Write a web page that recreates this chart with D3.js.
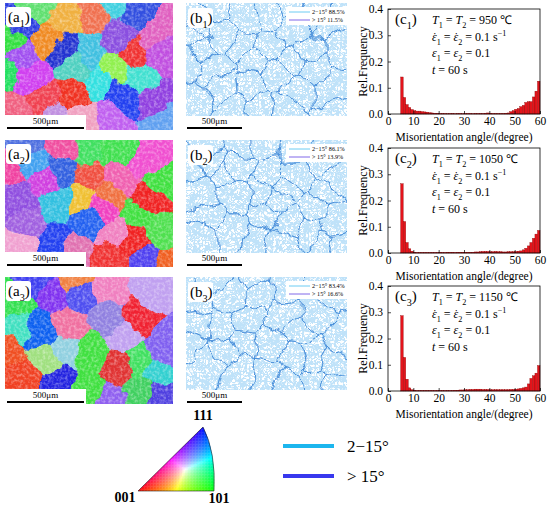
<!DOCTYPE html>
<html>
<head>
<meta charset="utf-8">
<script src="https://cdn.jsdelivr.net/npm/d3@7/dist/d3.min.js"></script>
<style>
  body { margin: 0; background: #fff; }
  svg text { font-family: "Liberation Serif", "Times New Roman", Times, serif; }
</style>
</head>
<body>
<svg id="fig" width="550" height="510"></svg>
<script>
// ---- data ----
const temps = [950, 1050, 1150];
const lowAngleShare = [88.5, 86.1, 83.4];
const highAngleShare = [11.5, 13.9, 16.6];
const angleTicks = [0, 10, 20, 30, 40, 50, 60];
const freqTicks = [0, 0.1, 0.2, 0.3, 0.4];
const binStarts = d3.range(5, 60); // 1 degree bins, 5..60

// relative frequency per bin (5-6, 6-7, ... 59-60)
const freq950 = [0.141, 0.063, 0.036, 0.025, 0.017, 0.013, 0.011, 0.011, 0.009, 0.008,
  0.007, 0.005, 0.004, 0.003, 0.003, 0.002, 0.002, 0.002, 0.001, 0.002,
  0.002, 0.001, 0.002, 0.002, 0.001, 0.002, 0.002, 0.002, 0.001, 0.002,
  0.002, 0.002, 0.002, 0.003, 0.004, 0.003, 0.002, 0.002, 0.002, 0.002,
  0.002, 0.003, 0.004, 0.009, 0.013, 0.018, 0.021, 0.028, 0.033, 0.044,
  0.047, 0.047, 0.065, 0.087, 0.125];
const freq1050 = [0.264, 0.120, 0.040, 0.016, 0.007, 0.003, 0.002, 0.002, 0.002, 0.002,
  0.002, 0.002, 0.002, 0.002, 0.002, 0.003, 0.002, 0.002, 0.003, 0.003,
  0.003, 0.002, 0.003, 0.003, 0.003, 0.003, 0.003, 0.003, 0.003, 0.004,
  0.004, 0.005, 0.006, 0.006, 0.006, 0.005, 0.005, 0.006, 0.005, 0.005,
  0.004, 0.004, 0.005, 0.005, 0.005, 0.006, 0.007, 0.008, 0.012, 0.018,
  0.027, 0.040, 0.056, 0.072, 0.086];
const freq1150 = [0.287, 0.128, 0.045, 0.012, 0.005, 0.003, 0.002, 0.002, 0.002, 0.002,
  0.002, 0.002, 0.002, 0.002, 0.002, 0.002, 0.002, 0.002, 0.002, 0.002,
  0.002, 0.003, 0.003, 0.004, 0.004, 0.005, 0.005, 0.006, 0.006, 0.007,
  0.007, 0.007, 0.006, 0.006, 0.006, 0.005, 0.005, 0.005, 0.005, 0.005,
  0.005, 0.005, 0.005, 0.006, 0.006, 0.007, 0.008, 0.010, 0.012, 0.015,
  0.027, 0.048, 0.058, 0.068, 0.097];
const freqSeries = [freq950, freq1050, freq1150];

// grain seeds of the orientation maps: [x (0-100), y (0-100), orientation colour]
const grains950 = [
  [8.9, 16.2, '#2a3ce0'], [3, 29.3, '#30e040'], [26.7, 29.3, '#f08a20'], [36.6, 13.6, '#f0b040'],
  [18.8, 3.1, '#60e070'], [52.5, 8.4, '#f07050'], [62.4, 1.8, '#40d0e0'], [68.3, 26.7, '#8a50e0'],
  [80.2, 11, '#3050e0'], [94, 39.8, '#c050e0'], [88.1, 21.5, '#e060c0'], [50.5, 39.8, '#40c0e0'],
  [34.7, 37.2, '#2030d0'], [64.4, 50.3, '#90f050'], [42.6, 50.3, '#50d0c0'], [14.9, 58.1, '#d040f0'],
  [8.9, 42.4, '#a050f0'], [2, 52.9, '#20e060'], [40.6, 73.8, '#f03020'], [22.8, 76.4, '#f04050'],
  [5, 84.3, '#f06080'], [70.3, 76.4, '#2040f0'], [56.4, 60.7, '#30e0e0'], [90.1, 76.4, '#9040e0'],
  [62.4, 92.1, '#c060f0'], [30.7, 89.5, '#c090e0'], [80.2, 60.7, '#40e0d0'], [76.2, 39.8, '#f03030'],
  [96, 94.8, '#60a0f0'], [46.5, 89.5, '#f0a0c0']
];
const grains1050 = [
  [16.8, 18.7, '#40a0f0'], [2, 22.7, '#f040a0'], [8.9, 49.3, '#9050e0'], [23.8, 30.7, '#d040e0'],
  [33.7, 24, '#3060e0'], [51.5, 30.7, '#f05040'], [48.5, 4, '#40e060'], [34.7, 4, '#f050a0'],
  [14.9, 2.7, '#5070e0'], [68.3, 6.7, '#40e050'], [92.1, 36, '#40e040'], [84.2, 14.7, '#f050d0'],
  [68.3, 30.7, '#f060b0'], [62.4, 42.7, '#f07040'], [30.7, 49.3, '#30c0e0'], [46.5, 48, '#f0c030'],
  [56.4, 53.3, '#f040c0'], [50.5, 62.7, '#2060f0'], [80.2, 57.3, '#40e040'], [86.1, 48, '#f02020'],
  [12.9, 68, '#a060e0'], [64.4, 76, '#f080c0'], [92.1, 73.3, '#50e050'], [30.7, 81.3, '#2040f0'],
  [60.4, 92, '#f03030'], [78.2, 81.3, '#f02020'], [84.2, 92, '#5040f0'], [8.9, 81.3, '#f0a0d0'],
  [96, 97.3, '#f06020'], [42.6, 86.7, '#e070b0']
];
const grains1150 = [
  [5, 22.7, '#30e050'], [28.7, 14.7, '#8030f0'], [46.5, 12, '#5050f0'], [60.4, 9.3, '#f080c0'],
  [88.1, 9.3, '#c0a0f0'], [78.2, 33.3, '#f02030'], [62.4, 33.3, '#9080e0'], [6.9, 41.3, '#40e0c0'],
  [22.8, 44, '#1060f0'], [36.6, 38.7, '#f070a0'], [70.3, 46.7, '#c0a0f0'], [52.5, 60, '#40e040'],
  [80.2, 68, '#40e060'], [90.1, 76, '#30d0d0'], [96, 57.3, '#8060f0'], [12.9, 76, '#f04020'],
  [2, 57.3, '#f05020'], [34.7, 57.3, '#90d0e0'], [67.3, 73.3, '#e03030'], [92.1, 94.7, '#5040e0'],
  [62.4, 94.7, '#9060f0'], [80.2, 92, '#40d060'], [24.8, 65.3, '#a0e080'], [32.7, 84, '#2020e0'],
  [42.6, 2.7, '#f08040'], [50.5, 86.7, '#40e040'], [18.8, 1.3, '#4040f0']
];
const grainSets = [grains950, grains1050, grains1150];

// ---- layout ----
const svg = d3.select('#fig');
const rowTop = [3, 140, 277];
const mapA = { x0: 5, x1: 173, h: 127 };
const mapB = { x0: 186, x1: 347, h: 113 };
const plot = { x0: 388, x1: 540, top: [9, 148, 286], h: 105 };

const defs = svg.append('defs');

// irregular grain boundaries
const wob = defs.append('filter').attr('id', 'wob')
  .attr('x', '-5%').attr('y', '-5%').attr('width', '110%').attr('height', '110%');
wob.append('feTurbulence').attr('type', 'fractalNoise').attr('baseFrequency', 0.05)
  .attr('numOctaves', 3).attr('seed', 7).attr('result', 't');
wob.append('feDisplacementMap').attr('in', 'SourceGraphic').attr('in2', 't')
  .attr('scale', 16).attr('xChannelSelector', 'R').attr('yChannelSelector', 'G');

// soft mottling inside the orientation map grains
const mottle = defs.append('filter').attr('id', 'mottle')
  .attr('x', 0).attr('y', 0).attr('width', 1).attr('height', 1);
mottle.append('feTurbulence').attr('type', 'fractalNoise').attr('baseFrequency', 0.35)
  .attr('numOctaves', 2).attr('seed', 3);
mottle.append('feColorMatrix').attr('type', 'matrix')
  .attr('values', '0 0 0 0 1  0 0 0 0 1  0 0 0 0 1  0.9 0 0 0 -0.36');

// tangled light-blue network of low angle boundaries
const speck = defs.append('filter').attr('id', 'speck')
  .attr('x', 0).attr('y', 0).attr('width', 1).attr('height', 1);
speck.append('feTurbulence').attr('type', 'turbulence').attr('baseFrequency', 0.22)
  .attr('numOctaves', 1).attr('seed', 11).attr('result', 'n1');
speck.append('feColorMatrix').attr('in', 'n1').attr('type', 'matrix')
  .attr('values', '0 0 0 0 0.52  0 0 0 0 0.76  0 0 0 0 0.95  -8 0 0 0 1.55').attr('result', 'l1');
speck.append('feTurbulence').attr('type', 'turbulence').attr('baseFrequency', 0.34)
  .attr('numOctaves', 1).attr('seed', 29).attr('result', 'n2');
speck.append('feColorMatrix').attr('in', 'n2').attr('type', 'matrix')
  .attr('values', '0 0 0 0 0.52  0 0 0 0 0.76  0 0 0 0 0.95  -8 0 0 0 1.45').attr('result', 'l2');
const sm = speck.append('feMerge');
sm.append('feMergeNode').attr('in', 'l1');
sm.append('feMergeNode').attr('in', 'l2');

// rich text helper: parts = [[text, flags]], flags may hold 'i', 'dot', 'sub', 'sup'
function rich(g, x, y, parts, size, anchor) {
  const t = g.append('text').attr('x', x).attr('y', y)
    .attr('text-anchor', anchor || 'start').style('font-size', size + 'px');
  let shift = 0;
  parts.forEach(([s, f = '']) => {
    const ts = t.append('tspan').text(s);
    let want = 0;
    if (f.includes('sub')) want = size * 0.3;
    if (f.includes('sup')) want = -size * 0.38;
    if (want !== shift) { ts.attr('dy', want - shift); shift = want; }
    if (f.includes('sub') || f.includes('sup')) ts.style('font-size', (size * 0.68) + 'px');
    if (f.includes('i')) ts.style('font-style', 'italic');
    if (f.includes('dot')) {
      t.append('tspan').text('˙').attr('dx', -size * 0.34 + 'px');
    }
  });
  return t;
}

function panelLabel(g, x, y, letter, idx) {
  g.append('rect').attr('x', x).attr('y', y).attr('width', 25).attr('height', 20)
    .attr('rx', 3).attr('fill', '#fff');
  rich(g, x + 2, y + 15, [['(' + letter], [String(idx + 1), 'sub'], [')']], 15);
}

function scaleBar(g, x0, x1, y) {
  g.append('line').attr('x1', x0).attr('x2', x1).attr('y1', y).attr('y2', y)
    .attr('stroke', '#000').attr('stroke-width', 2.2);
  g.append('text').attr('x', (x0 + x1) / 2).attr('y', y - 4).attr('text-anchor', 'middle')
    .style('font-size', '9px').text('500μm');
}

grainSets.forEach((grains, i) => {
  const top = rowTop[i];

  // ---- (a) orientation map ----
  const gx = d3.scaleLinear().domain([0, 100]).range([mapA.x0, mapA.x1]);
  const gy = d3.scaleLinear().domain([0, 100]).range([top, top + mapA.h]);
  const vor = d3.Delaunay.from(grains, d => gx(d[0]), d => gy(d[1]))
    .voronoi([mapA.x0 - 15, top - 15, mapA.x1 + 15, top + mapA.h + 15]);

  defs.append('clipPath').attr('id', 'clipA' + i).append('rect')
    .attr('x', mapA.x0).attr('y', top).attr('width', mapA.x1 - mapA.x0).attr('height', mapA.h);
  const ga = svg.append('g').attr('clip-path', `url(#clipA${i})`);
  ga.append('g').attr('filter', 'url(#wob)')
    .selectAll('path').data(grains).join('path')
    .attr('d', (d, k) => vor.renderCell(k))
    .attr('fill', d => d[2]).attr('stroke', d => d[2]).attr('stroke-width', 1);
  ga.append('rect').attr('x', mapA.x0).attr('y', top).attr('width', mapA.x1 - mapA.x0)
    .attr('height', mapA.h).attr('fill', '#fff').attr('filter', 'url(#mottle)');

  const la = svg.append('g');
  la.append('rect').attr('x', mapA.x0).attr('y', top + mapA.h - 15).attr('width', 81)
    .attr('height', 16).attr('fill', '#fff');
  scaleBar(la, 7, 84, top + mapA.h - 2);
  panelLabel(la, 6, top + 4, 'a', i);

  // ---- (b) boundary map ----
  const bx = d3.scaleLinear().domain([0, 100]).range([mapB.x0, mapB.x1]);
  const by = d3.scaleLinear().domain([0, 100]).range([top, top + mapB.h]);
  const vorB = d3.Delaunay.from(grains, d => bx(d[0]), d => by(d[1]))
    .voronoi([mapB.x0 - 15, top - 15, mapB.x1 + 15, top + mapB.h + 15]);

  defs.append('clipPath').attr('id', 'clipB' + i).append('rect')
    .attr('x', mapB.x0).attr('y', top).attr('width', mapB.x1 - mapB.x0).attr('height', mapB.h);
  const gb = svg.append('g').attr('clip-path', `url(#clipB${i})`);
  gb.append('rect').attr('x', mapB.x0).attr('y', top).attr('width', mapB.x1 - mapB.x0)
    .attr('height', mapB.h).attr('fill', '#000').attr('filter', 'url(#speck)');
  gb.append('g').attr('filter', 'url(#wob)')
    .selectAll('path').data(grains).join('path')
    .attr('d', (d, k) => vorB.renderCell(k))
    .attr('fill', 'none').attr('stroke', '#3a84d6').attr('stroke-width', 0.8)
    .attr('stroke-opacity', 0.8);

  const lb = svg.append('g');
  scaleBar(lb, 187, 242, top + 125);
  panelLabel(lb, 188, top + 5, 'b', i);
  const leg = lb.append('g');
  leg.append('rect').attr('x', 286).attr('y', top + 4).attr('width', 61).attr('height', 18)
    .attr('fill', '#fff');
  [[lowAngleShare[i], '2−15°', '#5cc6f2'], [highAngleShare[i], '> 15°', '#7258e6']]
    .forEach(([v, name, c], k) => {
      const yy = top + 9 + k * 8;
      leg.append('line').attr('x1', 289).attr('x2', 310).attr('y1', yy).attr('y2', yy)
        .attr('stroke', c).attr('stroke-width', 0.9);
      leg.append('text').attr('x', 312).attr('y', yy + 2.2).style('font-size', '6.2px')
        .text(`${name}  ${v}%`);
    });

  // ---- (c) misorientation histogram ----
  const pTop = plot.top[i], pBot = pTop + plot.h;
  const x = d3.scaleLinear().domain([0, 60]).range([plot.x0, plot.x1]);
  const y = d3.scaleLinear().domain([0, 0.4]).range([pBot, pTop]);
  const gc = svg.append('g');

  gc.selectAll('rect.bar').data(binStarts).join('rect').attr('class', 'bar')
    .attr('x', d => x(d)).attr('width', x(1) - x(0))
    .attr('y', (d, k) => y(freqSeries[i][k]))
    .attr('height', (d, k) => y(0) - y(freqSeries[i][k]))
    .attr('fill', '#e4141b').attr('stroke', '#8a0000').attr('stroke-width', 0.35);

  gc.append('rect').attr('x', plot.x0).attr('y', pTop).attr('width', plot.x1 - plot.x0)
    .attr('height', plot.h).attr('fill', 'none').attr('stroke', '#000').attr('stroke-width', 0.8);

  const xAxis = gc.append('g').attr('transform', `translate(0,${pBot})`)
    .call(d3.axisBottom(x).tickValues(angleTicks).tickSizeInner(-3).tickSizeOuter(0).tickPadding(3));
  const yAxis = gc.append('g').attr('transform', `translate(${plot.x0},0)`)
    .call(d3.axisLeft(y).tickValues(freqTicks).tickFormat(d3.format('.1f'))
      .tickSizeInner(-3).tickSizeOuter(0).tickPadding(5));
  [xAxis, yAxis].forEach(a => {
    a.select('.domain').remove();
    a.selectAll('text').style('font-size', '11.5px').attr('fill', '#000');
    a.selectAll('line').attr('stroke-width', 0.7);
  });

  gc.append('text').attr('x', (plot.x0 + plot.x1) / 2).attr('y', pBot + 26.5)
    .attr('text-anchor', 'middle').style('font-size', '11.5px').text('Misorientation angle/(degree)');
  gc.append('text').attr('transform', `translate(367,${(pTop + pBot) / 2}) rotate(-90)`)
    .attr('text-anchor', 'middle').style('font-size', '12px').text('Rel.Frequency');

  rich(gc, plot.x0 + 7, pTop + 15, [['(c'], [String(i + 1), 'sub'], [')']], 15);
  const ax = plot.x0 + 44;
  rich(gc, ax, pTop + 15, [['T', 'i'], ['1', 'sub'], [' = '], ['T', 'i'], ['2', 'sub'], [` = ${temps[i]} ℃`]], 12);
  rich(gc, ax, pTop + 32, [['ε', 'i dot'], ['1', 'sub'], [' = '], ['ε', 'i dot'], ['2', 'sub'], [' = 0.1 s'], ['−1', 'sup']], 12);
  rich(gc, ax, pTop + 48, [['ε', 'i'], ['1', 'sub'], [' = '], ['ε', 'i'], ['2', 'sub'], [' = 0.1']], 12);
  rich(gc, ax, pTop + 65, [['t', 'i'], [' = 60 s']], 12);
});

// ---- inverse pole figure key ----
const p001 = [138, 491], p101 = [214, 491], p111 = [203, 427];
const keyPath = `M${p001}L${p111}Q216,452 ${p101}Z`;
defs.append('clipPath').attr('id', 'clipIPF').append('path').attr('d', keyPath);

function ipfColor(px, py) {
  const [x1, y1] = p001, [x2, y2] = p101, [x3, y3] = p111;
  const det = (y2 - y3) * (x1 - x3) + (x3 - x2) * (y1 - y3);
  let a = ((y2 - y3) * (px - x3) + (x3 - x2) * (py - y3)) / det;
  let b = ((y3 - y1) * (px - x3) + (x1 - x3) * (py - y3)) / det;
  let c = 1 - a - b;
  a = Math.max(a, 0); b = Math.max(b, 0); c = Math.max(c, 0);
  const m = Math.max(a, b, c);
  const f = v => Math.round(255 * Math.pow(v / m, 0.75));
  return `rgb(${f(a)},${f(b)},${f(c)})`;
}
const cell = 1.5;
const cells = [];
for (let cy = 425; cy < 492; cy += cell) {
  for (let cx = 137; cx < 218; cx += cell) cells.push([cx, cy]);
}
const ipf = svg.append('g');
ipf.append('g').attr('clip-path', 'url(#clipIPF)')
  .selectAll('rect').data(cells).join('rect')
  .attr('x', d => d[0]).attr('y', d => d[1]).attr('width', cell + 0.3).attr('height', cell + 0.3)
  .attr('fill', d => ipfColor(d[0] + cell / 2, d[1] + cell / 2));
ipf.append('path').attr('d', keyPath).attr('fill', 'none').attr('stroke', '#222').attr('stroke-width', 0.6);
[['111', 203, 420], ['001', 125, 502], ['101', 219, 503]].forEach(([s, lx, ly]) => {
  ipf.append('text').attr('x', lx).attr('y', ly).attr('text-anchor', 'middle')
    .style('font-size', '14px').style('font-weight', 'bold').text(s);
});

// ---- boundary legend ----
const bLeg = svg.append('g');
[['2−15°', '#1cb6ee', 446], ['> 15°', '#3838ee', 476]].forEach(([s, c, ly]) => {
  bLeg.append('line').attr('x1', 283).attr('x2', 334).attr('y1', ly).attr('y2', ly)
    .attr('stroke', c).attr('stroke-width', 4);
  bLeg.append('text').attr('x', 347).attr('y', ly + 6).style('font-size', '17px').text(s);
});
</script>
</body>
</html>
